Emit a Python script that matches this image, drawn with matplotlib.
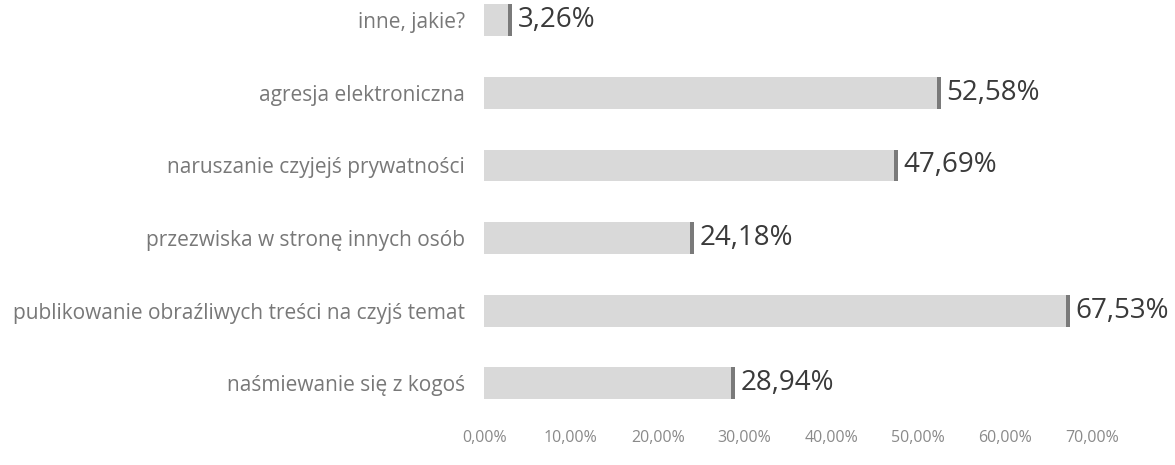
import matplotlib.pyplot as plt
from matplotlib.ticker import FuncFormatter

##data
categories = ['naśmiewanie się z kogoś',
              'publikowanie obraźliwych treści na czyjś temat',
              'przezwiska w stronę innych osób',
              'naruszanie czyjejś prywatności',
              'agresja elektroniczna',
              'inne, jakie?']
values = [28.94, 67.53, 24.18, 47.69, 52.58, 3.26]
ticks = [0, 10, 20, 30, 40, 50, 60, 70]

plt.rcParams['font.family'] = ['Open Sans', 'DejaVu Sans']

##set up the plot
fig = plt.figure()
fig.set_size_inches(11.75, 4.65)
ax = fig.add_axes([0.412, 0.09, 0.532, 0.91])

ypos = list(range(len(categories)))
ax.barh(ypos, values, height=0.44, color='#d9d9d9', edgecolor='none')
# darker right end of each bar
ax.barh(ypos, [0.45] * len(values), left=[v - 0.45 for v in values], height=0.44,
        color='#7a7a7a', edgecolor='none')

for y, v in zip(ypos, values):
    ax.text(v + 0.6, y, ('%.2f%%' % v).replace('.', ','), va='center', ha='left',
            fontsize=20, color='#3a3a3a')

##make it look like the original
ax.set_xlim(0, 72)
ax.set_ylim(-0.55, 5.28)
ax.set_yticks(ypos)
ax.set_yticklabels(categories, fontsize=15, color='#787878')
ax.set_xticks(ticks)
ax.xaxis.set_major_formatter(FuncFormatter(lambda x, p: ('%.2f%%' % x).replace('.', ',')))
ax.tick_params(axis='x', labelsize=11.5, labelcolor='#8a8a8a', length=0, pad=5)
ax.tick_params(axis='y', length=0, pad=14)
for s in ax.spines.values():
    s.set_visible(False)

fig.savefig('out.png', dpi=100)
